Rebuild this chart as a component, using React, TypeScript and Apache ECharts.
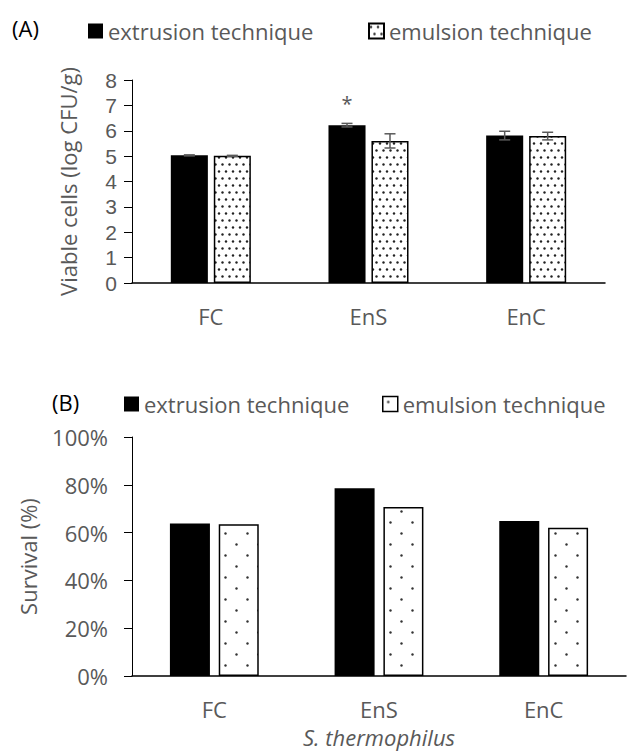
import React, { useEffect, useRef } from 'react';
import * as echarts from 'echarts';

// ---------- data ----------
const categories = ['FC', 'EnS', 'EnC'];
const seriesNames = ['extrusion technique', 'emulsion technique'];

// Panel A: viable cells (log CFU/g)
const viableExtrusion = [5.03, 6.22, 5.81];
const viableExtrusionErr = [0.02, 0.07, 0.17];
const viableEmulsion = [5.01, 5.6, 5.79];
const viableEmulsionErr = [0.02, 0.28, 0.15];
const viableSignificance = ['', '*', ''];

// Panel B: survival (%)
const survivalExtrusion = [63.8, 78.6, 64.9];
const survivalEmulsion = [63.5, 70.7, 62.0];

const FONT = '"Open Sans", sans-serif';
const TICK_FONT = '"Liberation Sans", Arial, sans-serif';
const GREY = '#595959';

const BW_A = 0.235;
const GAP_A = 0.16;
const BW_B = 0.243;
const GAP_B = 0.22;

function makePattern(w: number, h: number, dots: number[][], r: number, color: string) {
  const c = document.createElement('canvas');
  c.width = w;
  c.height = h;
  const ctx = c.getContext('2d') as CanvasRenderingContext2D;
  ctx.fillStyle = '#ffffff';
  ctx.fillRect(0, 0, w, h);
  ctx.fillStyle = color;
  dots.forEach(([x, y]) => {
    ctx.beginPath();
    ctx.arc(x, y, r, 0, Math.PI * 2);
    ctx.fill();
  });
  return { image: c, repeat: 'repeat', imageWidth: w, imageHeight: h } as any;
}

function errorSeries(
  vals: number[][],
  errs: number[][],
  bw: number,
  gap: number,
  axisIndex: number
) {
  const data: number[][] = [];
  vals.forEach((arr, s) => {
    arr.forEach((v, i) => {
      data.push([i, v, errs[s][i], s === 0 ? -1 : 1]);
    });
  });
  return {
    type: 'custom',
    xAxisIndex: axisIndex,
    yAxisIndex: axisIndex,
    z: 5,
    silent: true,
    encode: { x: 0, y: 1 },
    data,
    renderItem: (_params: any, api: any) => {
      const idx = api.value(0);
      const val = api.value(1);
      const err = api.value(2);
      const side = api.value(3);
      const band = api.size([1, 0])[0];
      const w = band * bw;
      const off = (side * (w + w * gap)) / 2;
      const cx = api.coord([idx, val])[0] + off;
      const yHi = api.coord([idx, val + err])[1];
      const yLo = api.coord([idx, val - err])[1];
      const cap = 5.5;
      const st = { stroke: GREY, lineWidth: 1.5 };
      return {
        type: 'group',
        children: [
          { type: 'line', shape: { x1: cx, y1: yHi, x2: cx, y2: yLo }, style: st },
          { type: 'line', shape: { x1: cx - cap, y1: yHi, x2: cx + cap, y2: yHi }, style: st },
          { type: 'line', shape: { x1: cx - cap, y1: yLo, x2: cx + cap, y2: yLo }, style: st },
        ],
      };
    },
  };
}

export default function App() {
  const ref = useRef<HTMLDivElement>(null);

  useEffect(() => {
    if (!ref.current) return;
    const chart = echarts.init(ref.current, undefined, { renderer: 'svg' });

    const patA = makePattern(7, 14, [[2, 3.5], [5.5, 10.5]], 1.2, '#222222');
    const patB = makePattern(22, 22, [[5.5, 5.5], [16.5, 16.5]], 1.2, '#333333');

    const legendText = { fontSize: 22, color: GREY, fontFamily: FONT };
    const legendBase = {
      orient: 'horizontal',
      padding: 0,
      itemWidth: 15,
      itemHeight: 15,
      icon: 'rect',
      selectedMode: false,
      textStyle: legendText,
    };

    const xAxisBase = {
      type: 'category',
      data: categories,
      axisLine: { lineStyle: { color: '#000', width: 1.5 } },
      axisTick: { alignWithLabel: true, length: 6, lineStyle: { color: '#000', width: 1.5 } },
      axisLabel: { fontSize: 22, color: GREY, fontFamily: FONT, margin: 22 },
      splitLine: { show: false },
    };
    const yAxisBase = {
      type: 'value',
      min: 0,
      axisLine: { show: true, lineStyle: { color: '#000', width: 1 } },
      axisTick: { show: true, length: 8, lineStyle: { color: '#000', width: 1 } },
      splitLine: { show: false },
      nameLocation: 'middle',
      nameTextStyle: { fontSize: 22, color: GREY, fontFamily: FONT },
    };

    const option: any = {
      animation: false,
      backgroundColor: '#ffffff',
      textStyle: { fontFamily: FONT },
      graphic: [
        {
          type: 'text',
          style: { text: '(A)', x: 12, y: 28, verticalAlign: 'middle', fill: '#000', font: `22px ${FONT}` },
        },
        {
          type: 'text',
          style: { text: '(B)', x: 52, y: 402, verticalAlign: 'middle', fill: '#000', font: `22px ${FONT}` },
        },
      ],
      legend: [
        { ...legendBase, data: [seriesNames[0]], left: 88, top: 20 },
        { ...legendBase, data: [seriesNames[1]], left: 368, top: 20 },
        { ...legendBase, data: [seriesNames[0]], left: 124, top: 393 },
        {
          ...legendBase,
          data: [{ name: seriesNames[1], itemStyle: { color: patB, borderColor: '#000', borderWidth: 1.5 } }],
          left: 382,
          top: 393,
        },
      ],
      grid: [
        { left: 132, top: 80, right: 22, bottom: 470 },
        { left: 132, top: 437, right: 1, bottom: 77 },
      ],
      xAxis: [
        { ...xAxisBase, gridIndex: 0 },
        {
          ...xAxisBase,
          gridIndex: 1,
          name: 'S. thermophilus',
          nameLocation: 'middle',
          nameGap: 50,
          nameTextStyle: { fontSize: 22, color: GREY, fontFamily: FONT, fontStyle: 'italic' },
        },
      ],
      yAxis: [
        {
          ...yAxisBase,
          gridIndex: 0,
          max: 8,
          interval: 1,
          name: 'Viable cells (log CFU/g)',
          nameGap: 53,
          axisLabel: { fontSize: 21, lineHeight: 21, color: GREY, fontFamily: TICK_FONT, margin: 15 },
        },
        {
          ...yAxisBase,
          gridIndex: 1,
          max: 100,
          interval: 20,
          name: 'Survival (%)',
          nameGap: 93,
          axisLabel: { fontSize: 22, color: GREY, fontFamily: FONT, margin: 24, formatter: '{value}%' },
        },
      ],
      series: [
        {
          name: seriesNames[0],
          type: 'bar',
          xAxisIndex: 0,
          yAxisIndex: 0,
          data: viableExtrusion,
          barWidth: `${BW_A * 100}%`,
          barGap: `${GAP_A * 100}%`,
          itemStyle: { color: '#000000' },
          label: {
            show: true,
            position: 'top',
            distance: 12,
            formatter: (p: any) => viableSignificance[p.dataIndex],
            fontSize: 20,
            color: GREY,
            fontFamily: FONT,
          },
        },
        {
          name: seriesNames[1],
          type: 'bar',
          xAxisIndex: 0,
          yAxisIndex: 0,
          data: viableEmulsion,
          barWidth: `${BW_A * 100}%`,
          barGap: `${GAP_A * 100}%`,
          itemStyle: { color: patA, borderColor: '#000', borderWidth: 1.5 },
        },
        errorSeries([viableExtrusion, viableEmulsion], [viableExtrusionErr, viableEmulsionErr], BW_A, GAP_A, 0),
        {
          name: seriesNames[0],
          type: 'bar',
          xAxisIndex: 1,
          yAxisIndex: 1,
          data: survivalExtrusion,
          barWidth: `${BW_B * 100}%`,
          barGap: `${GAP_B * 100}%`,
          itemStyle: { color: '#000000' },
        },
        {
          name: seriesNames[1],
          type: 'bar',
          xAxisIndex: 1,
          yAxisIndex: 1,
          data: survivalEmulsion,
          barWidth: `${BW_B * 100}%`,
          barGap: `${GAP_B * 100}%`,
          itemStyle: { color: patB, borderColor: '#000', borderWidth: 1.5 },
        },
      ],
    };

    chart.setOption(option);
    return () => {
      chart.dispose();
    };
  }, []);

  return (
    <div
      ref={ref}
      style={{ position: 'fixed', left: 0, top: 0, width: 627, height: 753, background: '#fff' }}
    />
  );
}
